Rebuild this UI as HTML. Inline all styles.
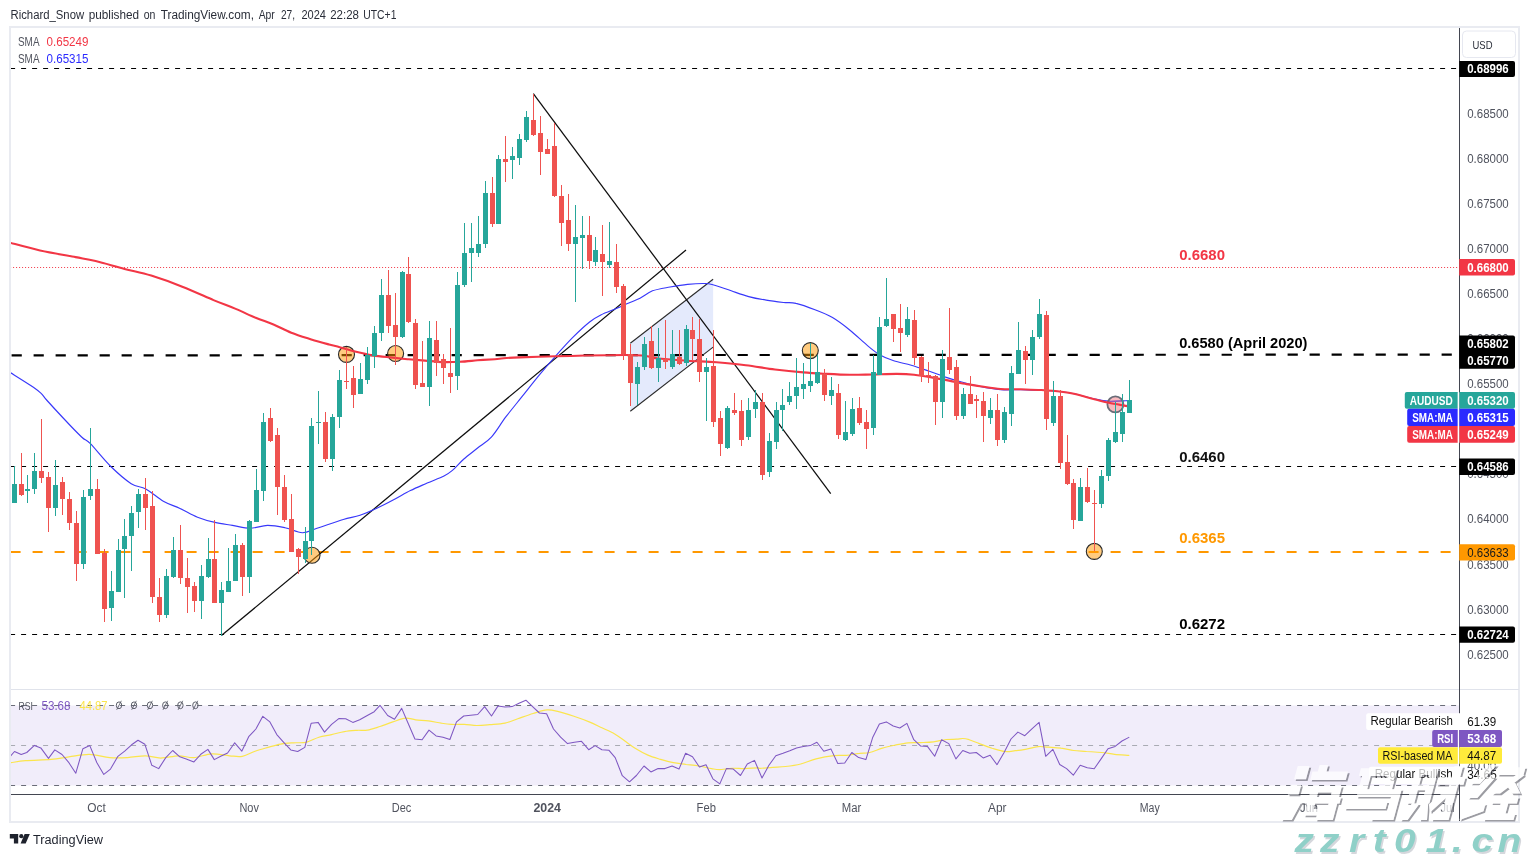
<!DOCTYPE html><html><head><meta charset="utf-8"><title>AUDUSD</title><style>html,body{margin:0;padding:0;background:#fff}body{width:1529px;height:857px;overflow:hidden}svg{display:block;will-change:transform}text{font-family:"Liberation Sans",sans-serif}</style></head><body>
<svg width="1529" height="857" viewBox="0 0 1529 857">
<rect width="1529" height="857" fill="#fff"/>
<rect x="10" y="27" width="1509" height="795" fill="#fff" stroke="#e9ebf1" stroke-width="2"/>
<text x="10.5" y="19" font-size="12.5" fill="#2a2e39" textLength="73.6" lengthAdjust="spacingAndGlyphs">Richard_Snow</text>
<text x="88.7" y="19" font-size="12.5" fill="#2a2e39" textLength="50.4" lengthAdjust="spacingAndGlyphs">published</text>
<text x="143.7" y="19" font-size="12.5" fill="#2a2e39" textLength="11.7" lengthAdjust="spacingAndGlyphs">on</text>
<text x="160.7" y="19" font-size="12.5" fill="#2a2e39" textLength="93.3" lengthAdjust="spacingAndGlyphs">TradingView.com,</text>
<text x="258.7" y="19" font-size="12.5" fill="#2a2e39" textLength="16.1" lengthAdjust="spacingAndGlyphs">Apr</text>
<text x="280.9" y="19" font-size="12.5" fill="#2a2e39" textLength="14.1" lengthAdjust="spacingAndGlyphs">27,</text>
<text x="301.4" y="19" font-size="12.5" fill="#2a2e39" textLength="24.5" lengthAdjust="spacingAndGlyphs">2024</text>
<text x="330.2" y="19" font-size="12.5" fill="#2a2e39" textLength="28.8" lengthAdjust="spacingAndGlyphs">22:28</text>
<text x="363.3" y="19" font-size="12.5" fill="#2a2e39" textLength="33.1" lengthAdjust="spacingAndGlyphs">UTC+1</text>
<defs><clipPath id="cp"><rect x="11" y="28" width="1448" height="661"/></clipPath><clipPath id="cr"><rect x="11" y="690" width="1448" height="104"/></clipPath></defs>
<rect x="11" y="705.5" width="1448" height="80" fill="#f1edfa"/>
<g clip-path="url(#cp)">
<line x1="10.1" y1="68.5" x2="1459" y2="68.5" stroke="#000" stroke-width="1" stroke-dasharray="5 6" stroke-dashoffset="0"/>
<line x1="10.1" y1="267.5" x2="1459" y2="267.5" stroke="#f23645" stroke-width="1" stroke-dasharray="1 2" stroke-dashoffset="0"/>
<line x1="10.1" y1="466.5" x2="1459" y2="466.5" stroke="#000" stroke-width="1" stroke-dasharray="5 6" stroke-dashoffset="0"/>
<line x1="10.1" y1="634.5" x2="1459" y2="634.5" stroke="#000" stroke-width="1" stroke-dasharray="5 6" stroke-dashoffset="0"/>
<line x1="10.6" y1="552" x2="1459" y2="552" stroke="#ff9800" stroke-width="2" stroke-dasharray="10 12" stroke-dashoffset="0"/>
<polygon points="630.3,343.3 713.1,279.2 713.1,347.1 630.3,411.2" fill="#dbe3fb" fill-opacity="0.75"/>
<line x1="11.6" y1="355.4" x2="1459" y2="354.6" stroke="#000" stroke-width="2.2" stroke-dasharray="10.2 11.8"/>
<line x1="630.3" y1="343.3" x2="713.1" y2="279.2" stroke="#2a2a2a" stroke-width="1.1"/>
<line x1="630.3" y1="411.2" x2="713.1" y2="347.1" stroke="#2a2a2a" stroke-width="1.1"/>
<line x1="221.4" y1="635.6" x2="686" y2="250" stroke="#0d0d0d" stroke-width="1.25"/>
<line x1="533.3" y1="93.7" x2="830.7" y2="493.7" stroke="#0d0d0d" stroke-width="1.25"/>
<path d="M10.7,372.8 C14.5,375.2 28.3,383.8 33.4,387.2 C38.4,390.7 38.9,391.3 41.1,393.4 C43.4,395.6 43.1,396.0 46.6,400.0 C50.2,404.0 56.9,411.3 62.7,417.5 C68.5,423.7 77.0,432.7 81.6,437.0 C86.2,441.4 85.5,438.8 90.4,443.7 C95.2,448.6 104.0,459.8 110.8,466.5 C117.6,473.1 125.4,479.9 131.2,483.7 C137.0,487.4 140.4,486.0 145.8,488.9 C151.1,491.8 157.6,497.9 163.3,501.2 C169.0,504.4 174.3,505.8 180.0,508.5 C185.7,511.1 191.7,514.9 197.5,517.2 C203.3,519.5 209.2,521.1 215.0,522.4 C220.8,523.8 226.6,524.4 232.5,525.4 C238.3,526.3 244.1,528.3 250.0,528.3 C255.8,528.3 261.6,525.5 267.5,525.4 C273.3,525.3 279.1,526.5 285.0,527.7 C290.8,528.9 297.1,532.6 302.4,532.7 C307.8,532.8 310.2,530.5 317.0,528.3 C323.8,526.1 336.1,521.7 343.3,519.5 C350.4,517.4 354.4,517.1 360.0,515.2 C365.6,513.3 371.2,510.8 376.8,508.2 C382.4,505.7 388.0,502.8 393.6,499.8 C399.2,496.9 404.8,493.4 410.4,490.6 C416.0,487.8 421.6,485.5 427.2,483.0 C432.8,480.6 439.8,478.1 444.0,476.0 C448.2,473.9 449.1,473.2 452.4,470.4 C455.7,467.6 459.4,463.0 463.6,459.2 C467.8,455.5 472.9,451.8 477.6,448.0 C482.3,444.3 486.9,442.0 491.6,436.8 C496.3,431.7 500.5,424.0 505.6,417.2 C510.8,410.4 516.8,403.2 522.4,396.2 C528.0,389.2 533.6,382.0 539.2,375.2 C544.8,368.4 550.4,361.9 556.0,355.6 C561.6,349.3 567.2,343.0 572.8,337.4 C578.4,331.8 585.0,325.7 589.6,322.0 C594.3,318.3 596.2,317.3 600.8,315.0 C605.5,312.7 613.0,310.0 617.6,308.0 C622.3,306.0 625.1,304.6 628.8,303.0 C632.6,301.3 636.1,300.2 640.0,298.2 C644.0,296.2 647.5,292.7 652.5,290.8 C657.5,289.0 664.1,288.1 670.0,287.0 C675.8,286.0 681.6,285.0 687.5,284.4 C693.3,283.8 700.6,283.4 705.0,283.5 C709.3,283.6 709.3,283.8 713.7,285.0 C718.1,286.2 725.4,288.9 731.2,290.8 C737.0,292.8 742.9,295.1 748.7,296.6 C754.5,298.2 760.3,299.2 766.2,300.1 C772.0,301.1 778.7,301.9 783.7,302.5 C788.6,303.0 790.8,302.1 796.0,303.4 C801.3,304.6 808.9,307.4 815.0,309.8 C821.1,312.1 826.6,314.2 832.5,317.6 C838.3,321.0 844.1,325.5 850.0,330.2 C855.8,334.8 862.6,341.6 867.5,345.6 C872.3,349.7 874.8,351.8 879.1,354.4 C883.5,356.9 888.4,359.0 893.7,360.8 C899.0,362.6 905.4,363.5 911.2,365.2 C917.0,366.9 922.9,369.0 928.7,371.0 C934.5,373.0 940.8,375.6 946.2,377.4 C951.5,379.2 955.1,380.3 960.8,381.8 C966.4,383.3 973.4,385.1 980.0,386.4 C986.6,387.8 993.8,389.1 1000.6,389.6 C1007.4,390.2 1014.1,389.5 1020.9,389.6 C1027.7,389.8 1034.5,390.0 1041.2,390.3 C1048.0,390.7 1055.9,391.1 1061.5,391.7 C1067.2,392.3 1069.4,392.8 1075.1,394.0 C1080.7,395.3 1089.7,397.9 1095.4,399.1 C1101.0,400.3 1103.8,400.9 1108.9,401.2 C1114.0,401.4 1122.6,400.9 1125.8,400.8 C1129.0,400.7 1127.6,400.6 1128.0,400.5" fill="none" stroke="#3838fa" stroke-width="1.15" stroke-linejoin="round" stroke-linecap="round"/>
<circle cx="312" cy="555.3" r="8" fill="#ff9800" fill-opacity="0.5" stroke="#2a2a2a" stroke-width="1.1"/>
<circle cx="346.5" cy="354.4" r="8" fill="#ff9800" fill-opacity="0.5" stroke="#2a2a2a" stroke-width="1.1"/>
<circle cx="395.6" cy="353.5" r="8" fill="#ff9800" fill-opacity="0.5" stroke="#2a2a2a" stroke-width="1.1"/>
<circle cx="810.3" cy="350.6" r="8" fill="#ff9800" fill-opacity="0.5" stroke="#2a2a2a" stroke-width="1.1"/>
<circle cx="1094.3" cy="551.4" r="8" fill="#ff9800" fill-opacity="0.5" stroke="#2a2a2a" stroke-width="1.1"/>
<circle cx="1115.4" cy="404.4" r="8" fill="#f23645" fill-opacity="0.35" stroke="#6a6d78" stroke-width="1.8"/>
<path d="M10.7,242.9 C15.6,244.2 29.2,248.1 40.0,250.5 C50.8,252.8 66.3,255.4 75.6,257.1 C84.9,258.9 87.5,259.2 95.6,261.1 C103.8,263.1 115.3,266.5 124.5,268.9 C133.8,271.3 141.6,272.6 151.2,275.6 C160.8,278.6 172.0,282.6 182.3,286.7 C192.7,290.8 204.6,296.3 213.5,300.1 C222.4,303.8 228.7,306.0 235.7,308.9 C242.8,311.9 249.4,315.2 255.7,317.8 C262.0,320.4 267.6,322.0 273.5,324.5 C279.4,327.0 285.0,330.3 291.3,332.7 C297.6,335.2 305.0,337.4 311.3,339.4 C317.6,341.4 324.7,343.3 329.1,344.5 C333.5,345.7 333.2,345.4 337.5,346.6 C341.8,347.8 349.2,350.1 355.0,351.6 C360.8,353.0 366.6,354.4 372.5,355.4 C378.3,356.3 384.1,356.8 390.0,357.4 C395.8,358.0 401.6,358.6 407.5,359.2 C413.3,359.7 419.1,360.1 425.0,360.6 C430.8,361.1 436.6,361.9 442.4,362.1 C448.3,362.3 454.1,362.1 459.9,361.8 C465.8,361.5 471.6,360.8 477.4,360.3 C483.3,359.9 487.8,359.6 494.9,359.2 C502.0,358.7 497.6,358.1 520.0,357.4 C542.4,356.7 606.1,354.8 629.2,355.0 C652.2,355.1 648.6,357.5 658.3,358.5 C668.0,359.4 677.7,360.2 687.5,360.8 C697.2,361.4 706.9,361.5 716.6,362.2 C726.3,363.0 736.1,363.9 745.8,365.2 C755.5,366.4 765.3,368.3 774.9,369.5 C784.5,370.7 794.7,371.7 803.3,372.4 C811.9,373.2 818.9,373.5 826.6,373.9 C834.4,374.3 842.2,374.7 850.0,374.8 C857.7,374.9 865.5,374.6 873.3,374.5 C881.1,374.3 889.8,373.9 896.6,373.9 C903.4,374.0 908.3,374.2 914.1,374.8 C919.9,375.4 925.8,376.4 931.6,377.4 C937.4,378.4 943.3,379.5 949.1,380.6 C954.9,381.7 961.4,383.2 966.6,384.1 C971.7,385.0 974.3,385.3 980.0,386.2 C985.7,387.0 993.8,388.4 1000.6,389.0 C1007.4,389.5 1014.1,389.1 1020.9,389.3 C1027.7,389.5 1034.5,389.6 1041.2,390.0 C1048.0,390.4 1055.9,391.0 1061.5,391.7 C1067.2,392.4 1069.4,392.7 1075.1,394.0 C1080.7,395.3 1089.7,398.0 1095.4,399.5 C1101.0,400.9 1103.8,401.8 1108.9,402.8 C1114.0,403.9 1122.6,405.3 1125.8,405.9 C1129.0,406.5 1127.6,406.2 1128.0,406.3" fill="none" stroke="#f23645" stroke-width="2.1" stroke-linejoin="round" stroke-linecap="round"/>
<rect x="14" y="466" width="1" height="37" fill="#26a69a"/>
<rect x="12" y="484" width="5" height="19" fill="#26a69a"/>
<rect x="21" y="453" width="1" height="43" fill="#ef5350"/>
<rect x="19" y="484" width="5" height="11" fill="#ef5350"/>
<rect x="27" y="475" width="1" height="28" fill="#26a69a"/>
<rect x="25" y="489" width="5" height="2" fill="#26a69a"/>
<rect x="34" y="453" width="1" height="41" fill="#26a69a"/>
<rect x="32" y="471" width="5" height="18" fill="#26a69a"/>
<rect x="41" y="419" width="1" height="64" fill="#ef5350"/>
<rect x="39" y="471" width="5" height="7" fill="#ef5350"/>
<rect x="48" y="472" width="1" height="60" fill="#ef5350"/>
<rect x="46" y="477" width="5" height="31" fill="#ef5350"/>
<rect x="55" y="460" width="1" height="56" fill="#26a69a"/>
<rect x="53" y="485" width="5" height="23" fill="#26a69a"/>
<rect x="62" y="477" width="1" height="38" fill="#ef5350"/>
<rect x="60" y="482" width="5" height="17" fill="#ef5350"/>
<rect x="69" y="492" width="1" height="38" fill="#ef5350"/>
<rect x="67" y="499" width="5" height="24" fill="#ef5350"/>
<rect x="76" y="511" width="1" height="70" fill="#ef5350"/>
<rect x="74" y="523" width="5" height="41" fill="#ef5350"/>
<rect x="83" y="490" width="1" height="79" fill="#26a69a"/>
<rect x="81" y="497" width="5" height="67" fill="#26a69a"/>
<rect x="90" y="428" width="1" height="72" fill="#26a69a"/>
<rect x="88" y="489" width="5" height="7" fill="#26a69a"/>
<rect x="97" y="479" width="1" height="75" fill="#ef5350"/>
<rect x="95" y="489" width="5" height="65" fill="#ef5350"/>
<rect x="104" y="549" width="1" height="73" fill="#ef5350"/>
<rect x="102" y="553" width="5" height="56" fill="#ef5350"/>
<rect x="111" y="571" width="1" height="50" fill="#26a69a"/>
<rect x="109" y="591" width="5" height="17" fill="#26a69a"/>
<rect x="118" y="539" width="1" height="53" fill="#26a69a"/>
<rect x="116" y="550" width="5" height="42" fill="#26a69a"/>
<rect x="124" y="519" width="1" height="79" fill="#26a69a"/>
<rect x="122" y="536" width="5" height="13" fill="#26a69a"/>
<rect x="131" y="506" width="1" height="65" fill="#26a69a"/>
<rect x="129" y="513" width="5" height="23" fill="#26a69a"/>
<rect x="138" y="489" width="1" height="39" fill="#26a69a"/>
<rect x="136" y="494" width="5" height="18" fill="#26a69a"/>
<rect x="145" y="478" width="1" height="52" fill="#ef5350"/>
<rect x="143" y="494" width="5" height="14" fill="#ef5350"/>
<rect x="152" y="491" width="1" height="112" fill="#ef5350"/>
<rect x="150" y="506" width="5" height="91" fill="#ef5350"/>
<rect x="159" y="578" width="1" height="44" fill="#ef5350"/>
<rect x="157" y="597" width="5" height="18" fill="#ef5350"/>
<rect x="166" y="569" width="1" height="49" fill="#26a69a"/>
<rect x="164" y="576" width="5" height="39" fill="#26a69a"/>
<rect x="173" y="537" width="1" height="41" fill="#26a69a"/>
<rect x="171" y="550" width="5" height="27" fill="#26a69a"/>
<rect x="180" y="525" width="1" height="59" fill="#ef5350"/>
<rect x="178" y="550" width="5" height="28" fill="#ef5350"/>
<rect x="187" y="558" width="1" height="55" fill="#ef5350"/>
<rect x="185" y="578" width="5" height="9" fill="#ef5350"/>
<rect x="194" y="582" width="1" height="30" fill="#ef5350"/>
<rect x="192" y="586" width="5" height="15" fill="#ef5350"/>
<rect x="201" y="565" width="1" height="54" fill="#26a69a"/>
<rect x="199" y="576" width="5" height="25" fill="#26a69a"/>
<rect x="208" y="538" width="1" height="40" fill="#26a69a"/>
<rect x="206" y="559" width="5" height="18" fill="#26a69a"/>
<rect x="214" y="520" width="1" height="83" fill="#ef5350"/>
<rect x="212" y="559" width="5" height="44" fill="#ef5350"/>
<rect x="221" y="582" width="1" height="54" fill="#26a69a"/>
<rect x="219" y="590" width="5" height="13" fill="#26a69a"/>
<rect x="228" y="548" width="1" height="44" fill="#26a69a"/>
<rect x="226" y="581" width="5" height="11" fill="#26a69a"/>
<rect x="235" y="534" width="1" height="47" fill="#26a69a"/>
<rect x="233" y="545" width="5" height="36" fill="#26a69a"/>
<rect x="242" y="543" width="1" height="53" fill="#ef5350"/>
<rect x="240" y="545" width="5" height="32" fill="#ef5350"/>
<rect x="249" y="520" width="1" height="73" fill="#26a69a"/>
<rect x="247" y="521" width="5" height="56" fill="#26a69a"/>
<rect x="256" y="469" width="1" height="53" fill="#26a69a"/>
<rect x="254" y="490" width="5" height="32" fill="#26a69a"/>
<rect x="263" y="413" width="1" height="88" fill="#26a69a"/>
<rect x="261" y="422" width="5" height="69" fill="#26a69a"/>
<rect x="270" y="408" width="1" height="34" fill="#ef5350"/>
<rect x="268" y="418" width="5" height="23" fill="#ef5350"/>
<rect x="277" y="428" width="1" height="87" fill="#ef5350"/>
<rect x="275" y="435" width="5" height="52" fill="#ef5350"/>
<rect x="284" y="475" width="1" height="47" fill="#ef5350"/>
<rect x="282" y="487" width="5" height="33" fill="#ef5350"/>
<rect x="291" y="494" width="1" height="58" fill="#ef5350"/>
<rect x="289" y="519" width="5" height="33" fill="#ef5350"/>
<rect x="298" y="548" width="1" height="26" fill="#ef5350"/>
<rect x="296" y="549" width="5" height="8" fill="#ef5350"/>
<rect x="305" y="527" width="1" height="36" fill="#26a69a"/>
<rect x="303" y="541" width="5" height="18" fill="#26a69a"/>
<rect x="311" y="418" width="1" height="137" fill="#26a69a"/>
<rect x="309" y="426" width="5" height="115" fill="#26a69a"/>
<rect x="318" y="391" width="1" height="53" fill="#26a69a"/>
<rect x="316" y="422" width="5" height="1" fill="#26a69a"/>
<rect x="325" y="412" width="1" height="50" fill="#ef5350"/>
<rect x="323" y="422" width="5" height="37" fill="#ef5350"/>
<rect x="332" y="414" width="1" height="57" fill="#26a69a"/>
<rect x="330" y="417" width="5" height="42" fill="#26a69a"/>
<rect x="339" y="370" width="1" height="58" fill="#26a69a"/>
<rect x="337" y="380" width="5" height="37" fill="#26a69a"/>
<rect x="346" y="347" width="1" height="42" fill="#ef5350"/>
<rect x="344" y="381" width="5" height="1" fill="#ef5350"/>
<rect x="353" y="366" width="1" height="42" fill="#ef5350"/>
<rect x="351" y="378" width="5" height="17" fill="#ef5350"/>
<rect x="360" y="363" width="1" height="31" fill="#26a69a"/>
<rect x="358" y="379" width="5" height="15" fill="#26a69a"/>
<rect x="367" y="347" width="1" height="37" fill="#26a69a"/>
<rect x="365" y="355" width="5" height="25" fill="#26a69a"/>
<rect x="374" y="326" width="1" height="42" fill="#26a69a"/>
<rect x="372" y="333" width="5" height="23" fill="#26a69a"/>
<rect x="381" y="279" width="1" height="62" fill="#26a69a"/>
<rect x="379" y="295" width="5" height="38" fill="#26a69a"/>
<rect x="388" y="270" width="1" height="63" fill="#ef5350"/>
<rect x="386" y="295" width="5" height="31" fill="#ef5350"/>
<rect x="395" y="293" width="1" height="72" fill="#ef5350"/>
<rect x="393" y="325" width="5" height="12" fill="#ef5350"/>
<rect x="402" y="271" width="1" height="67" fill="#26a69a"/>
<rect x="400" y="272" width="5" height="65" fill="#26a69a"/>
<rect x="408" y="257" width="1" height="66" fill="#ef5350"/>
<rect x="406" y="274" width="5" height="48" fill="#ef5350"/>
<rect x="415" y="319" width="1" height="70" fill="#ef5350"/>
<rect x="413" y="323" width="5" height="62" fill="#ef5350"/>
<rect x="422" y="341" width="1" height="46" fill="#ef5350"/>
<rect x="420" y="383" width="5" height="4" fill="#ef5350"/>
<rect x="429" y="321" width="1" height="85" fill="#26a69a"/>
<rect x="427" y="338" width="5" height="49" fill="#26a69a"/>
<rect x="436" y="321" width="1" height="55" fill="#ef5350"/>
<rect x="434" y="340" width="5" height="23" fill="#ef5350"/>
<rect x="443" y="354" width="1" height="30" fill="#ef5350"/>
<rect x="441" y="359" width="5" height="9" fill="#ef5350"/>
<rect x="450" y="328" width="1" height="65" fill="#ef5350"/>
<rect x="448" y="373" width="5" height="4" fill="#ef5350"/>
<rect x="457" y="272" width="1" height="118" fill="#26a69a"/>
<rect x="455" y="285" width="5" height="91" fill="#26a69a"/>
<rect x="464" y="223" width="1" height="64" fill="#26a69a"/>
<rect x="462" y="253" width="5" height="32" fill="#26a69a"/>
<rect x="471" y="223" width="1" height="59" fill="#26a69a"/>
<rect x="469" y="248" width="5" height="5" fill="#26a69a"/>
<rect x="478" y="216" width="1" height="41" fill="#26a69a"/>
<rect x="476" y="244" width="5" height="9" fill="#26a69a"/>
<rect x="485" y="181" width="1" height="67" fill="#26a69a"/>
<rect x="483" y="193" width="5" height="51" fill="#26a69a"/>
<rect x="492" y="177" width="1" height="50" fill="#ef5350"/>
<rect x="490" y="193" width="5" height="31" fill="#ef5350"/>
<rect x="498" y="155" width="1" height="69" fill="#26a69a"/>
<rect x="496" y="159" width="5" height="65" fill="#26a69a"/>
<rect x="505" y="136" width="1" height="46" fill="#ef5350"/>
<rect x="503" y="159" width="5" height="3" fill="#ef5350"/>
<rect x="512" y="147" width="1" height="32" fill="#26a69a"/>
<rect x="510" y="156" width="5" height="4" fill="#26a69a"/>
<rect x="519" y="134" width="1" height="31" fill="#26a69a"/>
<rect x="517" y="139" width="5" height="19" fill="#26a69a"/>
<rect x="526" y="111" width="1" height="31" fill="#26a69a"/>
<rect x="524" y="117" width="5" height="23" fill="#26a69a"/>
<rect x="533" y="94" width="1" height="42" fill="#ef5350"/>
<rect x="531" y="120" width="5" height="15" fill="#ef5350"/>
<rect x="540" y="116" width="1" height="59" fill="#ef5350"/>
<rect x="538" y="133" width="5" height="19" fill="#ef5350"/>
<rect x="547" y="139" width="1" height="15" fill="#ef5350"/>
<rect x="545" y="149" width="5" height="5" fill="#ef5350"/>
<rect x="554" y="123" width="1" height="74" fill="#ef5350"/>
<rect x="552" y="146" width="5" height="50" fill="#ef5350"/>
<rect x="561" y="185" width="1" height="61" fill="#ef5350"/>
<rect x="559" y="196" width="5" height="27" fill="#ef5350"/>
<rect x="568" y="194" width="1" height="57" fill="#ef5350"/>
<rect x="566" y="220" width="5" height="24" fill="#ef5350"/>
<rect x="575" y="205" width="1" height="97" fill="#26a69a"/>
<rect x="573" y="237" width="5" height="7" fill="#26a69a"/>
<rect x="582" y="216" width="1" height="53" fill="#26a69a"/>
<rect x="580" y="235" width="5" height="3" fill="#26a69a"/>
<rect x="589" y="216" width="1" height="53" fill="#ef5350"/>
<rect x="587" y="235" width="5" height="26" fill="#ef5350"/>
<rect x="595" y="237" width="1" height="29" fill="#26a69a"/>
<rect x="593" y="250" width="5" height="12" fill="#26a69a"/>
<rect x="602" y="225" width="1" height="71" fill="#ef5350"/>
<rect x="600" y="254" width="5" height="8" fill="#ef5350"/>
<rect x="609" y="222" width="1" height="46" fill="#26a69a"/>
<rect x="607" y="261" width="5" height="4" fill="#26a69a"/>
<rect x="616" y="244" width="1" height="49" fill="#ef5350"/>
<rect x="614" y="262" width="5" height="25" fill="#ef5350"/>
<rect x="623" y="284" width="1" height="76" fill="#ef5350"/>
<rect x="621" y="286" width="5" height="68" fill="#ef5350"/>
<rect x="630" y="344" width="1" height="62" fill="#ef5350"/>
<rect x="628" y="354" width="5" height="29" fill="#ef5350"/>
<rect x="637" y="362" width="1" height="43" fill="#26a69a"/>
<rect x="635" y="367" width="5" height="17" fill="#26a69a"/>
<rect x="644" y="337" width="1" height="33" fill="#26a69a"/>
<rect x="642" y="344" width="5" height="23" fill="#26a69a"/>
<rect x="651" y="326" width="1" height="43" fill="#ef5350"/>
<rect x="649" y="341" width="5" height="27" fill="#ef5350"/>
<rect x="658" y="328" width="1" height="54" fill="#26a69a"/>
<rect x="656" y="358" width="5" height="10" fill="#26a69a"/>
<rect x="665" y="320" width="1" height="49" fill="#ef5350"/>
<rect x="663" y="359" width="5" height="3" fill="#ef5350"/>
<rect x="672" y="330" width="1" height="39" fill="#26a69a"/>
<rect x="670" y="354" width="5" height="13" fill="#26a69a"/>
<rect x="679" y="330" width="1" height="35" fill="#ef5350"/>
<rect x="677" y="357" width="5" height="7" fill="#ef5350"/>
<rect x="686" y="325" width="1" height="41" fill="#26a69a"/>
<rect x="684" y="329" width="5" height="34" fill="#26a69a"/>
<rect x="692" y="317" width="1" height="44" fill="#ef5350"/>
<rect x="690" y="330" width="5" height="9" fill="#ef5350"/>
<rect x="699" y="319" width="1" height="63" fill="#ef5350"/>
<rect x="697" y="339" width="5" height="33" fill="#ef5350"/>
<rect x="706" y="358" width="1" height="63" fill="#26a69a"/>
<rect x="704" y="367" width="5" height="5" fill="#26a69a"/>
<rect x="713" y="330" width="1" height="97" fill="#ef5350"/>
<rect x="711" y="366" width="5" height="56" fill="#ef5350"/>
<rect x="720" y="411" width="1" height="45" fill="#ef5350"/>
<rect x="718" y="418" width="5" height="26" fill="#ef5350"/>
<rect x="727" y="406" width="1" height="43" fill="#26a69a"/>
<rect x="725" y="408" width="5" height="40" fill="#26a69a"/>
<rect x="734" y="393" width="1" height="22" fill="#ef5350"/>
<rect x="732" y="410" width="5" height="3" fill="#ef5350"/>
<rect x="741" y="400" width="1" height="46" fill="#ef5350"/>
<rect x="739" y="411" width="5" height="29" fill="#ef5350"/>
<rect x="748" y="398" width="1" height="42" fill="#26a69a"/>
<rect x="746" y="410" width="5" height="27" fill="#26a69a"/>
<rect x="755" y="390" width="1" height="28" fill="#26a69a"/>
<rect x="753" y="402" width="5" height="7" fill="#26a69a"/>
<rect x="762" y="393" width="1" height="87" fill="#ef5350"/>
<rect x="760" y="402" width="5" height="73" fill="#ef5350"/>
<rect x="769" y="433" width="1" height="44" fill="#26a69a"/>
<rect x="767" y="441" width="5" height="31" fill="#26a69a"/>
<rect x="776" y="402" width="1" height="47" fill="#26a69a"/>
<rect x="774" y="410" width="5" height="32" fill="#26a69a"/>
<rect x="782" y="389" width="1" height="42" fill="#26a69a"/>
<rect x="780" y="405" width="5" height="5" fill="#26a69a"/>
<rect x="789" y="382" width="1" height="23" fill="#26a69a"/>
<rect x="787" y="396" width="5" height="6" fill="#26a69a"/>
<rect x="796" y="358" width="1" height="51" fill="#26a69a"/>
<rect x="794" y="387" width="5" height="9" fill="#26a69a"/>
<rect x="803" y="363" width="1" height="36" fill="#26a69a"/>
<rect x="801" y="384" width="5" height="5" fill="#26a69a"/>
<rect x="810" y="343" width="1" height="49" fill="#26a69a"/>
<rect x="808" y="381" width="5" height="5" fill="#26a69a"/>
<rect x="817" y="355" width="1" height="29" fill="#26a69a"/>
<rect x="815" y="372" width="5" height="11" fill="#26a69a"/>
<rect x="824" y="369" width="1" height="32" fill="#ef5350"/>
<rect x="822" y="374" width="5" height="21" fill="#ef5350"/>
<rect x="831" y="377" width="1" height="28" fill="#26a69a"/>
<rect x="829" y="390" width="5" height="6" fill="#26a69a"/>
<rect x="838" y="384" width="1" height="55" fill="#ef5350"/>
<rect x="836" y="393" width="5" height="42" fill="#ef5350"/>
<rect x="845" y="401" width="1" height="40" fill="#26a69a"/>
<rect x="843" y="432" width="5" height="8" fill="#26a69a"/>
<rect x="852" y="398" width="1" height="38" fill="#26a69a"/>
<rect x="850" y="409" width="5" height="25" fill="#26a69a"/>
<rect x="859" y="397" width="1" height="28" fill="#ef5350"/>
<rect x="857" y="408" width="5" height="15" fill="#ef5350"/>
<rect x="866" y="410" width="1" height="39" fill="#ef5350"/>
<rect x="864" y="422" width="5" height="7" fill="#ef5350"/>
<rect x="873" y="355" width="1" height="80" fill="#26a69a"/>
<rect x="871" y="372" width="5" height="56" fill="#26a69a"/>
<rect x="879" y="317" width="1" height="58" fill="#26a69a"/>
<rect x="877" y="327" width="5" height="48" fill="#26a69a"/>
<rect x="886" y="278" width="1" height="49" fill="#26a69a"/>
<rect x="884" y="319" width="5" height="7" fill="#26a69a"/>
<rect x="893" y="314" width="1" height="28" fill="#ef5350"/>
<rect x="891" y="314" width="5" height="15" fill="#ef5350"/>
<rect x="900" y="304" width="1" height="48" fill="#ef5350"/>
<rect x="898" y="328" width="5" height="5" fill="#ef5350"/>
<rect x="907" y="307" width="1" height="30" fill="#26a69a"/>
<rect x="905" y="319" width="5" height="16" fill="#26a69a"/>
<rect x="914" y="310" width="1" height="55" fill="#ef5350"/>
<rect x="912" y="320" width="5" height="38" fill="#ef5350"/>
<rect x="921" y="356" width="1" height="26" fill="#ef5350"/>
<rect x="919" y="357" width="5" height="19" fill="#ef5350"/>
<rect x="928" y="362" width="1" height="21" fill="#ef5350"/>
<rect x="926" y="375" width="5" height="1" fill="#ef5350"/>
<rect x="935" y="375" width="1" height="50" fill="#ef5350"/>
<rect x="933" y="376" width="5" height="26" fill="#ef5350"/>
<rect x="942" y="350" width="1" height="68" fill="#26a69a"/>
<rect x="940" y="359" width="5" height="43" fill="#26a69a"/>
<rect x="949" y="308" width="1" height="66" fill="#ef5350"/>
<rect x="947" y="357" width="5" height="13" fill="#ef5350"/>
<rect x="956" y="360" width="1" height="60" fill="#ef5350"/>
<rect x="954" y="367" width="5" height="49" fill="#ef5350"/>
<rect x="963" y="388" width="1" height="31" fill="#26a69a"/>
<rect x="961" y="394" width="5" height="22" fill="#26a69a"/>
<rect x="970" y="376" width="1" height="28" fill="#ef5350"/>
<rect x="968" y="394" width="5" height="10" fill="#ef5350"/>
<rect x="976" y="395" width="1" height="23" fill="#ef5350"/>
<rect x="974" y="399" width="5" height="2" fill="#ef5350"/>
<rect x="983" y="392" width="1" height="50" fill="#ef5350"/>
<rect x="981" y="401" width="5" height="15" fill="#ef5350"/>
<rect x="990" y="398" width="1" height="26" fill="#26a69a"/>
<rect x="988" y="410" width="5" height="8" fill="#26a69a"/>
<rect x="997" y="394" width="1" height="52" fill="#ef5350"/>
<rect x="995" y="410" width="5" height="30" fill="#ef5350"/>
<rect x="1004" y="407" width="1" height="36" fill="#26a69a"/>
<rect x="1002" y="412" width="5" height="28" fill="#26a69a"/>
<rect x="1011" y="366" width="1" height="60" fill="#26a69a"/>
<rect x="1009" y="373" width="5" height="41" fill="#26a69a"/>
<rect x="1018" y="322" width="1" height="52" fill="#26a69a"/>
<rect x="1016" y="350" width="5" height="24" fill="#26a69a"/>
<rect x="1025" y="346" width="1" height="38" fill="#ef5350"/>
<rect x="1023" y="351" width="5" height="9" fill="#ef5350"/>
<rect x="1032" y="330" width="1" height="45" fill="#26a69a"/>
<rect x="1030" y="337" width="5" height="23" fill="#26a69a"/>
<rect x="1039" y="299" width="1" height="40" fill="#26a69a"/>
<rect x="1037" y="314" width="5" height="23" fill="#26a69a"/>
<rect x="1046" y="311" width="1" height="119" fill="#ef5350"/>
<rect x="1044" y="315" width="5" height="104" fill="#ef5350"/>
<rect x="1053" y="381" width="1" height="45" fill="#26a69a"/>
<rect x="1051" y="396" width="5" height="27" fill="#26a69a"/>
<rect x="1060" y="390" width="1" height="79" fill="#ef5350"/>
<rect x="1058" y="396" width="5" height="67" fill="#ef5350"/>
<rect x="1067" y="435" width="1" height="50" fill="#ef5350"/>
<rect x="1065" y="462" width="5" height="22" fill="#ef5350"/>
<rect x="1073" y="479" width="1" height="50" fill="#ef5350"/>
<rect x="1071" y="483" width="5" height="37" fill="#ef5350"/>
<rect x="1080" y="478" width="1" height="43" fill="#26a69a"/>
<rect x="1078" y="487" width="5" height="34" fill="#26a69a"/>
<rect x="1087" y="468" width="1" height="35" fill="#ef5350"/>
<rect x="1085" y="487" width="5" height="15" fill="#ef5350"/>
<rect x="1094" y="490" width="1" height="61" fill="#ef5350"/>
<rect x="1092" y="503" width="5" height="1" fill="#ef5350"/>
<rect x="1101" y="470" width="1" height="38" fill="#26a69a"/>
<rect x="1099" y="476" width="5" height="28" fill="#26a69a"/>
<rect x="1108" y="438" width="1" height="43" fill="#26a69a"/>
<rect x="1106" y="440" width="5" height="36" fill="#26a69a"/>
<rect x="1115" y="402" width="1" height="41" fill="#26a69a"/>
<rect x="1113" y="432" width="5" height="10" fill="#26a69a"/>
<rect x="1122" y="394" width="1" height="48" fill="#26a69a"/>
<rect x="1120" y="412" width="5" height="22" fill="#26a69a"/>
<rect x="1129" y="380" width="1" height="33" fill="#26a69a"/>
<rect x="1127" y="400" width="5" height="13" fill="#26a69a"/>
</g>
<text x="1179.2" y="259.7" font-size="14" font-weight="bold" fill="#f23645" textLength="45.8" lengthAdjust="spacingAndGlyphs">0.6680</text>
<text x="1179.2" y="348.2" font-size="14" font-weight="bold" fill="#000" textLength="128.3" lengthAdjust="spacingAndGlyphs">0.6580 (April 2020)</text>
<text x="1179.2" y="461.6" font-size="14" font-weight="bold" fill="#111" textLength="45.8" lengthAdjust="spacingAndGlyphs">0.6460</text>
<text x="1179.2" y="542.8" font-size="14" font-weight="bold" fill="#ff9800" textLength="45.8" lengthAdjust="spacingAndGlyphs">0.6365</text>
<text x="1179.2" y="628.8" font-size="14" font-weight="bold" fill="#000" textLength="45.8" lengthAdjust="spacingAndGlyphs">0.6272</text>
<text x="18" y="45.5" font-size="12.5" fill="#50535e" textLength="21.5" lengthAdjust="spacingAndGlyphs">SMA</text>
<text x="46.5" y="45.5" font-size="12" fill="#f23645" textLength="42" lengthAdjust="spacingAndGlyphs">0.65249</text>
<text x="18" y="62.5" font-size="12.5" fill="#50535e" textLength="21.5" lengthAdjust="spacingAndGlyphs">SMA</text>
<text x="46.5" y="62.5" font-size="12" fill="#2a2aff" textLength="42" lengthAdjust="spacingAndGlyphs">0.65315</text>
<rect x="11" y="689" width="1508" height="1" fill="#e0e3eb"/>
<g clip-path="url(#cr)">
<line x1="10.1" y1="705.5" x2="1459" y2="705.5" stroke="#6a6d78" stroke-width="1" stroke-dasharray="5 6" stroke-dashoffset="0"/>
<line x1="10.1" y1="745.5" x2="1459" y2="745.5" stroke="#a9abb3" stroke-width="1" stroke-dasharray="5 6" stroke-dashoffset="0"/>
<line x1="10.1" y1="785.5" x2="1459" y2="785.5" stroke="#6a6d78" stroke-width="1" stroke-dasharray="5 6" stroke-dashoffset="0"/>
<path d="M10.7,762.7 C13.2,762.4 18.8,761.2 25.5,760.7 C32.2,760.1 43.8,760.0 51.0,759.4 C58.2,758.8 62.5,757.7 68.9,756.8 C75.3,756.0 82.5,754.2 89.3,754.3 C96.1,754.4 103.3,757.0 109.7,757.6 C116.1,758.2 121.6,757.9 127.6,757.6 C133.5,757.3 139.9,755.7 145.4,755.8 C150.9,755.9 155.2,758.1 160.7,758.1 C166.2,758.1 173.0,755.9 178.6,755.8 C184.1,755.7 188.4,757.9 193.9,757.6 C199.4,757.3 205.8,754.1 211.7,753.8 C217.7,753.5 224.5,755.4 229.6,755.8 C234.7,756.2 238.1,757.1 242.3,756.3 C246.6,755.6 250.9,752.7 255.1,751.2 C259.4,749.7 263.6,748.6 267.9,747.4 C272.1,746.2 276.4,744.8 280.6,744.1 C284.9,743.3 289.1,743.1 293.4,742.8 C297.6,742.5 301.9,743.2 306.1,742.3 C310.4,741.4 314.6,738.5 318.9,737.2 C323.1,735.9 327.4,735.6 331.6,734.6 C335.9,733.7 340.1,732.3 344.4,731.6 C348.6,730.9 353.3,730.6 357.1,730.3 C361.0,730.1 363.5,730.7 367.3,730.1 C371.2,729.4 375.8,727.8 380.0,726.5 C384.2,725.1 388.5,723.3 392.8,721.9 C397.0,720.5 401.7,718.4 405.5,718.1 C409.3,717.7 411.9,719.4 415.7,719.8 C419.5,720.3 424.2,720.3 428.5,720.9 C432.7,721.4 437.4,722.6 441.2,723.2 C445.1,723.8 447.6,724.2 451.4,724.4 C455.3,724.7 459.9,724.3 464.2,724.4 C468.4,724.6 472.7,725.4 476.9,725.5 C481.2,725.5 485.0,725.1 489.7,724.7 C494.4,724.3 500.3,724.1 505.0,723.2 C509.7,722.2 513.1,720.4 517.8,718.8 C522.4,717.2 528.2,715.0 533.1,713.5 C538.0,712.0 542.8,710.2 547.1,709.9 C551.3,709.6 554.1,710.6 558.6,711.7 C563.0,712.7 568.8,714.6 573.9,716.3 C579.0,718.0 584.5,720.0 589.2,721.9 C593.9,723.8 597.7,725.8 601.9,727.8 C606.2,729.8 610.9,731.7 614.7,733.9 C618.5,736.1 621.5,738.6 624.9,741.0 C628.3,743.4 631.3,745.8 635.1,748.2 C638.9,750.5 643.6,753.2 647.9,755.1 C652.1,756.9 656.4,758.1 660.6,759.4 C664.9,760.7 669.1,761.9 673.4,762.7 C677.6,763.6 681.9,763.9 686.1,764.5 C690.4,765.0 694.6,765.3 698.9,766.0 C703.1,766.7 708.2,768.0 711.6,768.6 C715.0,769.2 715.9,769.6 719.3,769.6 C722.7,769.5 727.8,768.5 732.0,768.3 C736.3,768.1 740.5,768.7 744.8,768.6 C749.0,768.5 755.0,767.8 757.6,767.8 C760.1,767.8 757.5,768.4 760.0,768.3 C762.5,768.2 768.5,767.6 772.8,767.3 C777.0,767.0 780.8,767.1 785.5,766.5 C790.2,766.0 795.7,765.3 800.8,764.0 C805.9,762.7 810.6,760.3 816.1,758.9 C821.6,757.5 828.9,756.2 834.0,755.6 C839.1,755.0 842.5,755.7 846.7,755.3 C851.0,754.9 855.7,753.7 859.5,753.3 C863.3,752.8 865.9,753.4 869.7,752.5 C873.5,751.6 878.2,749.4 882.4,748.2 C886.7,746.9 891.0,746.0 895.2,745.1 C899.5,744.2 903.7,743.2 908.0,742.8 C912.2,742.4 916.5,742.7 920.7,742.6 C925.0,742.4 929.2,742.3 933.5,741.8 C937.7,741.3 942.4,739.9 946.2,739.5 C950.1,739.1 953.7,739.4 956.4,739.2 C959.2,739.1 960.7,738.4 962.8,738.5 C964.9,738.6 966.4,738.9 969.2,739.7 C971.9,740.6 975.6,742.2 979.4,743.6 C983.2,745.0 987.9,746.8 992.1,748.2 C996.4,749.5 1001.1,751.1 1004.9,751.5 C1008.7,751.9 1011.7,751.1 1015.1,750.7 C1018.5,750.4 1021.5,750.1 1025.3,749.4 C1029.1,748.8 1034.2,747.0 1038.1,746.6 C1041.9,746.2 1044.4,746.9 1048.3,747.1 C1052.1,747.4 1056.8,747.6 1061.0,748.2 C1065.3,748.7 1069.5,749.9 1073.8,750.5 C1078.0,751.0 1081.9,751.1 1086.5,751.5 C1091.2,751.8 1097.2,752.0 1101.8,752.5 C1106.5,753.0 1110.1,753.8 1114.6,754.3 C1119.1,754.8 1126.5,755.1 1128.9,755.3" fill="none" stroke="#fbe54d" stroke-width="1.2" stroke-linejoin="round" stroke-linecap="round"/>
<path d="M10.7,755.8 L14.5,751.5 L21.2,754.5 L26.8,752.5 L34.4,745.4 L40.8,747.9 L48.5,758.4 L54.8,749.9 L62.0,754.5 L68.9,762.7 L75.8,773.2 L82.9,748.7 L89.8,745.6 L96.9,762.7 L103.8,774.4 L110.5,769.1 L117.9,756.3 L124.7,751.2 L131.6,744.8 L138.0,740.3 L144.9,744.3 L151.8,765.3 L158.7,768.6 L165.8,757.6 L172.7,750.5 L179.8,756.8 L186.2,758.9 L193.9,761.9 L200.8,754.3 L207.9,749.4 L214.3,759.6 L220.7,756.3 L227.6,753.0 L234.7,742.8 L241.8,751.2 L248.7,736.7 L255.9,729.0 L262.8,716.3 L269.9,721.9 L276.8,734.6 L283.7,742.3 L290.8,749.9 L297.7,751.5 L304.8,747.4 L311.2,723.2 L318.1,722.4 L324.5,732.1 L331.6,724.4 L338.8,718.6 L345.7,718.8 L352.8,722.4 L359.7,719.8 L367.3,715.5 L374.2,711.7 L380.0,705.3 L387.7,715.5 L394.5,719.3 L401.7,708.4 L408.1,723.2 L414.9,739.0 L422.1,739.7 L429.0,730.1 L436.1,735.9 L443.0,737.2 L449.9,739.5 L456.5,721.9 L463.7,716.0 L470.6,715.3 L477.7,714.5 L484.6,706.6 L491.5,716.0 L497.9,706.1 L505.0,707.1 L512.1,706.6 L519.0,703.3 L525.9,700.2 L532.6,706.6 L539.4,713.0 L546.6,713.7 L553.5,729.0 L560.6,737.2 L567.5,743.6 L574.4,742.3 L581.5,741.3 L588.7,749.7 L595.1,745.6 L601.9,749.7 L608.8,750.2 L615.2,757.6 L622.3,775.7 L629.5,781.8 L636.4,775.5 L644.0,766.0 L650.9,771.9 L658.1,768.6 L664.9,768.6 L672.1,766.0 L679.0,769.1 L685.6,753.3 L692.5,756.8 L699.4,767.0 L706.0,764.7 L712.9,778.8 L719.8,783.9 L726.4,768.6 L733.3,769.1 L740.5,775.5 L747.3,764.0 L754.5,760.4 L762.0,778.0 L768.9,765.3 L775.8,755.8 L783.0,753.3 L789.8,750.7 L796.5,747.9 L803.4,746.4 L810.3,745.6 L816.9,742.3 L823.8,751.2 L830.9,748.9 L837.8,763.5 L844.7,763.0 L851.8,752.5 L858.7,757.6 L865.9,759.6 L872.8,737.2 L879.4,723.9 L886.3,721.9 L893.2,726.0 L899.8,728.0 L906.9,723.4 L913.8,739.7 L920.7,746.1 L927.6,746.6 L934.7,756.3 L941.6,739.7 L948.8,743.6 L955.9,758.9 L962.8,750.5 L969.7,753.3 L976.3,752.5 L983.2,757.9 L990.1,755.3 L997.0,764.7 L1004.1,752.5 L1011.0,739.0 L1017.9,732.1 L1024.8,735.7 L1031.9,728.8 L1039.1,722.4 L1045.7,756.3 L1052.9,749.4 L1059.7,764.5 L1066.6,768.6 L1073.3,775.2 L1080.2,765.3 L1087.3,767.8 L1094.2,768.8 L1101.1,758.9 L1108.0,748.7 L1115.1,746.4 L1122.0,741.0 L1128.9,737.4" fill="none" stroke="#7e57c2" stroke-width="1.05" stroke-linejoin="round" stroke-linecap="round" />
</g>
<text x="18.5" y="709.5" font-size="11.5" fill="#50535e" textLength="14.5" lengthAdjust="spacingAndGlyphs">RSI</text>
<text x="41.5" y="709.5" font-size="12" fill="#7e57c2" textLength="29" lengthAdjust="spacingAndGlyphs">53.68</text>
<text x="79.5" y="709.5" font-size="12" fill="#fbe54d" textLength="28" lengthAdjust="spacingAndGlyphs">44.87</text>
<ellipse cx="119" cy="705.3" rx="2.7" ry="3.4" fill="none" stroke="#5d606b" stroke-width="1"/><line x1="116.7" y1="709.8" x2="121.3" y2="700.8" stroke="#5d606b" stroke-width="0.9"/>
<ellipse cx="134" cy="705.3" rx="2.7" ry="3.4" fill="none" stroke="#5d606b" stroke-width="1"/><line x1="131.7" y1="709.8" x2="136.3" y2="700.8" stroke="#5d606b" stroke-width="0.9"/>
<ellipse cx="150" cy="705.3" rx="2.7" ry="3.4" fill="none" stroke="#5d606b" stroke-width="1"/><line x1="147.7" y1="709.8" x2="152.3" y2="700.8" stroke="#5d606b" stroke-width="0.9"/>
<ellipse cx="165.3" cy="705.3" rx="2.7" ry="3.4" fill="none" stroke="#5d606b" stroke-width="1"/><line x1="163.0" y1="709.8" x2="167.60000000000002" y2="700.8" stroke="#5d606b" stroke-width="0.9"/>
<ellipse cx="180.4" cy="705.3" rx="2.7" ry="3.4" fill="none" stroke="#5d606b" stroke-width="1"/><line x1="178.1" y1="709.8" x2="182.70000000000002" y2="700.8" stroke="#5d606b" stroke-width="0.9"/>
<ellipse cx="195.4" cy="705.3" rx="2.7" ry="3.4" fill="none" stroke="#5d606b" stroke-width="1"/><line x1="193.1" y1="709.8" x2="197.70000000000002" y2="700.8" stroke="#5d606b" stroke-width="0.9"/>
<rect x="1459" y="28" width="1" height="793" fill="#434651"/>
<rect x="11" y="794" width="1449" height="1" fill="#434651"/>
<text x="1467.2" y="117.7" font-size="12" fill="#50535e" textLength="41.5" lengthAdjust="spacingAndGlyphs">0.68500</text>
<text x="1467.2" y="162.8" font-size="12" fill="#50535e" textLength="41.5" lengthAdjust="spacingAndGlyphs">0.68000</text>
<text x="1467.2" y="207.9" font-size="12" fill="#50535e" textLength="41.5" lengthAdjust="spacingAndGlyphs">0.67500</text>
<text x="1467.2" y="252.9" font-size="12" fill="#50535e" textLength="41.5" lengthAdjust="spacingAndGlyphs">0.67000</text>
<text x="1467.2" y="298.0" font-size="12" fill="#50535e" textLength="41.5" lengthAdjust="spacingAndGlyphs">0.66500</text>
<text x="1467.2" y="343.1" font-size="12" fill="#50535e" textLength="41.5" lengthAdjust="spacingAndGlyphs">0.66000</text>
<text x="1467.2" y="388.2" font-size="12" fill="#50535e" textLength="41.5" lengthAdjust="spacingAndGlyphs">0.65500</text>
<text x="1467.2" y="433.3" font-size="12" fill="#50535e" textLength="41.5" lengthAdjust="spacingAndGlyphs">0.65000</text>
<text x="1467.2" y="478.3" font-size="12" fill="#50535e" textLength="41.5" lengthAdjust="spacingAndGlyphs">0.64500</text>
<text x="1467.2" y="523.4" font-size="12" fill="#50535e" textLength="41.5" lengthAdjust="spacingAndGlyphs">0.64000</text>
<text x="1467.2" y="568.5" font-size="12" fill="#50535e" textLength="41.5" lengthAdjust="spacingAndGlyphs">0.63500</text>
<text x="1467.2" y="613.6" font-size="12" fill="#50535e" textLength="41.5" lengthAdjust="spacingAndGlyphs">0.63000</text>
<text x="1467.2" y="658.7" font-size="12" fill="#50535e" textLength="41.5" lengthAdjust="spacingAndGlyphs">0.62500</text>
<rect x="1462.5" y="31" width="53" height="26.5" rx="4" fill="#fff" stroke="#e6e8f0" stroke-width="1"/>
<text x="1472.5" y="48.5" font-size="11.5" fill="#2a2e39" textLength="20" lengthAdjust="spacingAndGlyphs">USD</text>
<path d="M1459.2,61 H1513 Q1515,61 1515,63 V75 Q1515,77 1513,77 H1459.2 Z" fill="#000"/>
<text x="1467.2" y="73.3" font-size="12" font-weight="bold" fill="#fff" textLength="41.5" lengthAdjust="spacingAndGlyphs">0.68996</text>
<path d="M1459.2,259 H1513 Q1515,259 1515,261 V273.5 Q1515,275.5 1513,275.5 H1459.2 Z" fill="#f23645"/>
<text x="1467.2" y="271.6" font-size="12" font-weight="bold" fill="#fff" textLength="41.5" lengthAdjust="spacingAndGlyphs">0.66800</text>
<path d="M1459.2,335.5 H1513 Q1515,335.5 1515,337.5 V366.7 Q1515,368.7 1513,368.7 H1459.2 Z" fill="#000"/>
<text x="1467.2" y="356.4" font-size="12" font-weight="bold" fill="#fff" textLength="41.5" lengthAdjust="spacingAndGlyphs"></text>
<path d="M1459.2,335.5 H1513 Q1515,335.5 1515,337.5 V350.3 Q1515,352.3 1513,352.3 H1459.2 Z" fill="none"/>
<text x="1467.2" y="348.2" font-size="12" font-weight="bold" fill="#fff" textLength="41.5" lengthAdjust="spacingAndGlyphs">0.65802</text>
<path d="M1459.2,352.3 H1513 Q1515,352.3 1515,354.3 V366.7 Q1515,368.7 1513,368.7 H1459.2 Z" fill="none"/>
<text x="1467.2" y="364.8" font-size="12" font-weight="bold" fill="#fff" textLength="41.5" lengthAdjust="spacingAndGlyphs">0.65770</text>
<path d="M1459.2,392 H1513 Q1515,392 1515,394 V406.8 Q1515,408.8 1513,408.8 H1459.2 Z" fill="#26a69a"/>
<text x="1467.2" y="404.7" font-size="12" font-weight="bold" fill="#fff" textLength="41.5" lengthAdjust="spacingAndGlyphs">0.65320</text>
<path d="M1459.2,408.8 H1513 Q1515,408.8 1515,410.8 V423.9 Q1515,425.9 1513,425.9 H1459.2 Z" fill="#2a2aff"/>
<text x="1467.2" y="421.7" font-size="12" font-weight="bold" fill="#fff" textLength="41.5" lengthAdjust="spacingAndGlyphs">0.65315</text>
<path d="M1459.2,425.9 H1513 Q1515,425.9 1515,427.9 V440.7 Q1515,442.7 1513,442.7 H1459.2 Z" fill="#f23645"/>
<text x="1467.2" y="438.6" font-size="12" font-weight="bold" fill="#fff" textLength="41.5" lengthAdjust="spacingAndGlyphs">0.65249</text>
<path d="M1459.2,458.5 H1513 Q1515,458.5 1515,460.5 V473 Q1515,475 1513,475 H1459.2 Z" fill="#000"/>
<text x="1467.2" y="471.1" font-size="12" font-weight="bold" fill="#fff" textLength="41.5" lengthAdjust="spacingAndGlyphs">0.64586</text>
<path d="M1459.2,544.2 H1513 Q1515,544.2 1515,546.2 V558.5 Q1515,560.5 1513,560.5 H1459.2 Z" fill="#ff9800"/>
<text x="1467.2" y="556.6" font-size="12" fill="#1a1a1a" textLength="41.5" lengthAdjust="spacingAndGlyphs">0.63633</text>
<path d="M1459.2,626.4 H1513 Q1515,626.4 1515,628.4 V640.7 Q1515,642.7 1513,642.7 H1459.2 Z" fill="#000"/>
<text x="1467.2" y="638.8" font-size="12" font-weight="bold" fill="#fff" textLength="41.5" lengthAdjust="spacingAndGlyphs">0.62724</text>
<path d="M1457.8,392 H1406.8 Q1404.8,392 1404.8,394 V406.8 Q1404.8,408.8 1406.8,408.8 H1457.8 Z" fill="#26a69a"/>
<text x="1409.8" y="404.7" font-size="12" font-weight="bold" fill="#fff" textLength="43.0" lengthAdjust="spacingAndGlyphs">AUDUSD</text>
<path d="M1457.8,408.8 H1409.2 Q1407.2,408.8 1407.2,410.8 V423.9 Q1407.2,425.9 1409.2,425.9 H1457.8 Z" fill="#2a2aff"/>
<text x="1412.2" y="421.7" font-size="12" font-weight="bold" fill="#fff" textLength="40.59999999999991" lengthAdjust="spacingAndGlyphs">SMA:MA</text>
<path d="M1457.8,425.9 H1409.2 Q1407.2,425.9 1407.2,427.9 V440.7 Q1407.2,442.7 1409.2,442.7 H1457.8 Z" fill="#f23645"/>
<text x="1412.2" y="438.6" font-size="12" font-weight="bold" fill="#fff" textLength="40.59999999999991" lengthAdjust="spacingAndGlyphs">SMA:MA</text>
<rect x="1457.8" y="392.5" width="1.4" height="50.2" fill="#fff"/>
<rect x="1457.8" y="713.2" width="1.4" height="70.8" fill="#fff"/>
<text x="1467.2" y="769.5" font-size="12" fill="#50535e" textLength="29" lengthAdjust="spacingAndGlyphs">40.00</text>
<path d="M1460,713.2 H1368.2 Q1366.2,713.2 1366.2,715.2 V727.9 Q1366.2,729.9 1368.2,729.9 H1460 Z" fill="#fff"/>
<text x="1370.5" y="724.8" font-size="12" fill="#111" textLength="82.4" lengthAdjust="spacingAndGlyphs">Regular Bearish</text>
<text x="1467.2" y="725.5" font-size="12" fill="#111" textLength="29" lengthAdjust="spacingAndGlyphs">61.39</text>
<path d="M1457.8,730.1 H1434.2 Q1432.2,730.1 1432.2,732.1 V744.9 Q1432.2,746.9 1434.2,746.9 H1457.8 Z" fill="#7e57c2"/>
<text x="1437.2" y="742.8" font-size="12" font-weight="bold" fill="#fff" textLength="16" lengthAdjust="spacingAndGlyphs">RSI</text>
<path d="M1459.2,730.1 H1500 Q1502,730.1 1502,732.1 V744.9 Q1502,746.9 1500,746.9 H1459.2 Z" fill="#7e57c2"/>
<text x="1467.2" y="742.8" font-size="12" font-weight="bold" fill="#fff" textLength="29" lengthAdjust="spacingAndGlyphs">53.68</text>
<path d="M1457.8,747.2 H1380 Q1378,747.2 1378,749.2 V761.8 Q1378,763.8 1380,763.8 H1457.8 Z" fill="#ffeb3b"/>
<text x="1382.5" y="759.8" font-size="12" fill="#111" textLength="70" lengthAdjust="spacingAndGlyphs">RSI-based MA</text>
<path d="M1459.2,747.2 H1500 Q1502,747.2 1502,749.2 V761.8 Q1502,763.8 1500,763.8 H1459.2 Z" fill="#ffeb3b"/>
<text x="1467.2" y="759.8" font-size="12" fill="#111" textLength="29" lengthAdjust="spacingAndGlyphs">44.87</text>
<path d="M1460,766.7 H1371 Q1369,766.7 1369,768.7 V782 Q1369,784 1371,784 H1460 Z" fill="#fff"/>
<text x="1374.7" y="778.4" font-size="12" fill="#111" textLength="78" lengthAdjust="spacingAndGlyphs">Regular Bullish</text>
<text x="1467.2" y="779.3" font-size="12" fill="#111" textLength="29.5" lengthAdjust="spacingAndGlyphs">34.65</text>
<text x="87.3" y="812.1" font-size="12" fill="#50535e" textLength="18.5" lengthAdjust="spacingAndGlyphs">Oct</text>
<text x="239.4" y="812.1" font-size="12" fill="#50535e" textLength="19.5" lengthAdjust="spacingAndGlyphs">Nov</text>
<text x="391.8" y="812.1" font-size="12" fill="#50535e" textLength="19.5" lengthAdjust="spacingAndGlyphs">Dec</text>
<text x="533.5" y="812.1" font-size="12" font-weight="bold" fill="#50535e" textLength="27.5" lengthAdjust="spacingAndGlyphs">2024</text>
<text x="696.6" y="812.1" font-size="12" fill="#50535e" textLength="19.3" lengthAdjust="spacingAndGlyphs">Feb</text>
<text x="841.8" y="812.1" font-size="12" fill="#50535e" textLength="19.5" lengthAdjust="spacingAndGlyphs">Mar</text>
<text x="988.0" y="812.1" font-size="12" fill="#50535e" textLength="18.5" lengthAdjust="spacingAndGlyphs">Apr</text>
<text x="1139.8" y="812.1" font-size="12" fill="#50535e" textLength="20" lengthAdjust="spacingAndGlyphs">May</text>
<text x="1300.0" y="812.1" font-size="12" fill="#50535e" textLength="18" lengthAdjust="spacingAndGlyphs">Jun</text>
<text x="1440.5" y="812.1" font-size="12" fill="#50535e" textLength="14" lengthAdjust="spacingAndGlyphs">Jul</text>
<g fill="#1e222d"><path d="M9.8,834.1 H18.2 V843.5 H13.9 V838.4 H9.8 Z"/><circle cx="21.3" cy="836.2" r="2.1"/><path d="M24.6,834.1 H29.8 L25.7,843.5 H20.6 Z"/></g>
<text x="33" y="843.5" font-size="12.5" fill="#1e222d" textLength="70" lengthAdjust="spacingAndGlyphs">TradingView</text>
<defs><filter id="bl" x="-5%" y="-5%" width="110%" height="110%"><feGaussianBlur stdDeviation="0.6"/></filter></defs>
<defs><mask id="wm" maskUnits="userSpaceOnUse" x="1270" y="755" width="260" height="75"><rect x="1270" y="755" width="260" height="75" fill="#fff"/><path d="M1297.7,766.1 L1309.6,766.1 L1306.0,779.3 L1294.1,779.3Z M1290.5,784.8 L1301.3,784.8 L1298.6,794.7 L1287.8,794.7Z M1281.0,820.0 L1291.7,800.2 L1302.5,800.2 L1291.8,820.0Z M1319.6,765.0 L1328.2,765.0 L1326.5,771.6 L1317.8,771.6Z M1312.4,771.6 L1348.1,771.6 L1345.8,779.9 L1310.2,779.9Z M1311.8,785.9 L1341.0,785.9 L1339.2,792.5 L1310.0,792.5Z M1311.8,785.9 L1319.9,785.9 L1312.2,814.5 L1304.1,814.5Z M1333.4,785.9 L1342.0,785.9 L1332.8,820.0 L1324.2,820.0Z M1302.4,796.9 L1341.2,796.9 L1339.5,803.5 L1300.6,803.5Z M1305.6,809.0 L1327.2,809.0 L1325.4,815.6 L1303.8,815.6Z M1317.3,813.4 L1334.6,813.4 L1332.8,820.0 L1315.6,820.0Z M1360.9,768.3 L1397.7,768.3 L1395.6,776.0 L1358.9,776.0Z M1389.0,768.3 L1397.7,768.3 L1392.0,789.2 L1383.4,789.2Z M1362.1,776.0 L1370.7,776.0 L1365.1,796.9 L1356.5,796.9Z M1358.5,789.2 L1401.7,789.2 L1399.7,796.9 L1356.5,796.9Z M1393.1,789.2 L1401.7,789.2 L1393.4,820.0 L1384.8,820.0Z M1372.8,812.3 L1395.5,812.3 L1393.4,820.0 L1370.7,820.0Z M1346.6,801.3 L1387.7,801.3 L1385.6,809.0 L1344.5,809.0Z M1416.1,768.3 L1438.8,768.3 L1437.0,774.9 L1414.3,774.9Z M1416.1,768.3 L1423.7,768.3 L1414.2,803.5 L1406.6,803.5Z M1431.2,768.3 L1438.8,768.3 L1429.3,803.5 L1421.7,803.5Z M1419.2,784.8 L1426.8,784.8 L1425.3,790.3 L1417.7,790.3Z M1412.0,803.5 L1419.6,803.5 L1407.6,820.0 L1400.0,820.0Z M1420.7,803.5 L1428.2,803.5 L1427.0,820.0 L1419.4,820.0Z M1438.6,777.1 L1465.6,777.1 L1463.5,784.8 L1436.5,784.8Z M1454.5,766.1 L1463.2,766.1 L1448.6,820.0 L1440.0,820.0Z M1433.4,812.3 L1450.7,812.3 L1448.6,820.0 L1431.3,820.0Z M1448.9,787.0 L1445.9,798.0 L1430.2,812.3 L1429.0,804.6Z M1487.3,765.0 L1497.0,765.0 L1480.1,783.7 L1470.4,783.7Z M1487.3,777.1 L1495.9,777.1 L1477.3,798.0 L1467.6,798.0Z M1461.9,811.2 L1485.6,803.5 L1483.5,811.2 L1459.5,820.0Z M1499.7,767.2 L1525.6,767.2 L1523.5,774.9 L1497.6,774.9Z M1516.0,774.9 L1524.6,774.9 L1500.1,793.6 L1491.5,793.6Z M1503.7,780.4 L1512.1,777.1 L1520.6,793.6 L1512.0,793.6Z M1492.7,796.9 L1518.7,796.9 L1516.9,803.5 L1491.0,803.5Z M1502.5,796.9 L1510.0,796.9 L1505.0,815.6 L1497.4,815.6Z M1485.0,813.4 L1515.3,813.4 L1513.5,820.0 L1483.3,820.0Z" fill="#000"/></mask></defs>
<path d="M1299.3,767.7 L1311.2,767.7 L1307.6,780.9 L1295.7,780.9Z M1292.1,786.4 L1302.9,786.4 L1300.2,796.3 L1289.4,796.3Z M1282.6,821.6 L1293.3,801.8 L1304.1,801.8 L1293.4,821.6Z M1321.2,766.6 L1329.8,766.6 L1328.1,773.2 L1319.4,773.2Z M1314.0,773.2 L1349.7,773.2 L1347.4,781.5 L1311.8,781.5Z M1313.4,787.5 L1342.6,787.5 L1340.8,794.1 L1311.6,794.1Z M1313.4,787.5 L1321.5,787.5 L1313.8,816.1 L1305.7,816.1Z M1335.0,787.5 L1343.6,787.5 L1334.4,821.6 L1325.8,821.6Z M1304.0,798.5 L1342.8,798.5 L1341.1,805.1 L1302.2,805.1Z M1307.2,810.6 L1328.8,810.6 L1327.0,817.2 L1305.4,817.2Z M1318.9,815.0 L1336.2,815.0 L1334.4,821.6 L1317.2,821.6Z M1362.5,769.9 L1399.3,769.9 L1397.2,777.6 L1360.5,777.6Z M1390.6,769.9 L1399.3,769.9 L1393.6,790.8 L1385.0,790.8Z M1363.7,777.6 L1372.3,777.6 L1366.7,798.5 L1358.1,798.5Z M1360.1,790.8 L1403.3,790.8 L1401.3,798.5 L1358.1,798.5Z M1394.7,790.8 L1403.3,790.8 L1395.0,821.6 L1386.4,821.6Z M1374.4,813.9 L1397.1,813.9 L1395.0,821.6 L1372.3,821.6Z M1348.2,802.9 L1389.3,802.9 L1387.2,810.6 L1346.1,810.6Z M1417.7,769.9 L1440.4,769.9 L1438.6,776.5 L1415.9,776.5Z M1417.7,769.9 L1425.3,769.9 L1415.8,805.1 L1408.2,805.1Z M1432.8,769.9 L1440.4,769.9 L1430.9,805.1 L1423.3,805.1Z M1420.8,786.4 L1428.4,786.4 L1426.9,791.9 L1419.3,791.9Z M1413.6,805.1 L1421.2,805.1 L1409.2,821.6 L1401.6,821.6Z M1422.3,805.1 L1429.8,805.1 L1428.6,821.6 L1421.0,821.6Z M1440.2,778.7 L1467.2,778.7 L1465.1,786.4 L1438.1,786.4Z M1456.1,767.7 L1464.8,767.7 L1450.2,821.6 L1441.6,821.6Z M1435.0,813.9 L1452.3,813.9 L1450.2,821.6 L1432.9,821.6Z M1450.5,788.6 L1447.5,799.6 L1431.8,813.9 L1430.6,806.2Z M1488.9,766.6 L1498.6,766.6 L1481.7,785.3 L1472.0,785.3Z M1488.9,778.7 L1497.5,778.7 L1478.9,799.6 L1469.2,799.6Z M1463.5,812.8 L1487.2,805.1 L1485.1,812.8 L1461.1,821.6Z M1501.3,768.8 L1527.2,768.8 L1525.1,776.5 L1499.2,776.5Z M1517.6,776.5 L1526.2,776.5 L1501.7,795.2 L1493.1,795.2Z M1505.3,782.0 L1513.7,778.7 L1522.2,795.2 L1513.6,795.2Z M1494.3,798.5 L1520.3,798.5 L1518.5,805.1 L1492.6,805.1Z M1504.1,798.5 L1511.6,798.5 L1506.6,817.2 L1499.0,817.2Z M1486.6,815.0 L1516.9,815.0 L1515.1,821.6 L1484.9,821.6Z" fill="#4a4d58" fill-opacity="0.55" mask="url(#wm)" filter="url(#bl)"/>
<path d="M1297.7,766.1 L1309.6,766.1 L1306.0,779.3 L1294.1,779.3Z M1290.5,784.8 L1301.3,784.8 L1298.6,794.7 L1287.8,794.7Z M1281.0,820.0 L1291.7,800.2 L1302.5,800.2 L1291.8,820.0Z M1319.6,765.0 L1328.2,765.0 L1326.5,771.6 L1317.8,771.6Z M1312.4,771.6 L1348.1,771.6 L1345.8,779.9 L1310.2,779.9Z M1311.8,785.9 L1341.0,785.9 L1339.2,792.5 L1310.0,792.5Z M1311.8,785.9 L1319.9,785.9 L1312.2,814.5 L1304.1,814.5Z M1333.4,785.9 L1342.0,785.9 L1332.8,820.0 L1324.2,820.0Z M1302.4,796.9 L1341.2,796.9 L1339.5,803.5 L1300.6,803.5Z M1305.6,809.0 L1327.2,809.0 L1325.4,815.6 L1303.8,815.6Z M1317.3,813.4 L1334.6,813.4 L1332.8,820.0 L1315.6,820.0Z M1360.9,768.3 L1397.7,768.3 L1395.6,776.0 L1358.9,776.0Z M1389.0,768.3 L1397.7,768.3 L1392.0,789.2 L1383.4,789.2Z M1362.1,776.0 L1370.7,776.0 L1365.1,796.9 L1356.5,796.9Z M1358.5,789.2 L1401.7,789.2 L1399.7,796.9 L1356.5,796.9Z M1393.1,789.2 L1401.7,789.2 L1393.4,820.0 L1384.8,820.0Z M1372.8,812.3 L1395.5,812.3 L1393.4,820.0 L1370.7,820.0Z M1346.6,801.3 L1387.7,801.3 L1385.6,809.0 L1344.5,809.0Z M1416.1,768.3 L1438.8,768.3 L1437.0,774.9 L1414.3,774.9Z M1416.1,768.3 L1423.7,768.3 L1414.2,803.5 L1406.6,803.5Z M1431.2,768.3 L1438.8,768.3 L1429.3,803.5 L1421.7,803.5Z M1419.2,784.8 L1426.8,784.8 L1425.3,790.3 L1417.7,790.3Z M1412.0,803.5 L1419.6,803.5 L1407.6,820.0 L1400.0,820.0Z M1420.7,803.5 L1428.2,803.5 L1427.0,820.0 L1419.4,820.0Z M1438.6,777.1 L1465.6,777.1 L1463.5,784.8 L1436.5,784.8Z M1454.5,766.1 L1463.2,766.1 L1448.6,820.0 L1440.0,820.0Z M1433.4,812.3 L1450.7,812.3 L1448.6,820.0 L1431.3,820.0Z M1448.9,787.0 L1445.9,798.0 L1430.2,812.3 L1429.0,804.6Z M1487.3,765.0 L1497.0,765.0 L1480.1,783.7 L1470.4,783.7Z M1487.3,777.1 L1495.9,777.1 L1477.3,798.0 L1467.6,798.0Z M1461.9,811.2 L1485.6,803.5 L1483.5,811.2 L1459.5,820.0Z M1499.7,767.2 L1525.6,767.2 L1523.5,774.9 L1497.6,774.9Z M1516.0,774.9 L1524.6,774.9 L1500.1,793.6 L1491.5,793.6Z M1503.7,780.4 L1512.1,777.1 L1520.6,793.6 L1512.0,793.6Z M1492.7,796.9 L1518.7,796.9 L1516.9,803.5 L1491.0,803.5Z M1502.5,796.9 L1510.0,796.9 L1505.0,815.6 L1497.4,815.6Z M1485.0,813.4 L1515.3,813.4 L1513.5,820.0 L1483.3,820.0Z" fill="#fff" fill-opacity="0.72"/>
<text x="0" y="0" font-size="33" font-weight="bold" font-style="italic" fill="#d5d7dc" transform="translate(1296.0,853.5) scale(1.18,1)">z</text>
<text x="0" y="0" font-size="33" font-weight="bold" font-style="italic" fill="#d5d7dc" transform="translate(1321.5,853.5) scale(1.18,1)">z</text>
<text x="0" y="0" font-size="33" font-weight="bold" font-style="italic" fill="#d5d7dc" transform="translate(1350.5,853.5) scale(1.18,1)">r</text>
<text x="0" y="0" font-size="33" font-weight="bold" font-style="italic" fill="#d5d7dc" transform="translate(1374.2,853.5) scale(1.18,1)">t</text>
<text x="0" y="0" font-size="33" font-weight="bold" font-style="italic" fill="#d5d7dc" transform="translate(1395.5,853.5) scale(1.18,1)">0</text>
<text x="0" y="0" font-size="33" font-weight="bold" font-style="italic" fill="#d5d7dc" transform="translate(1427.0,853.5) scale(1.18,1)">1</text>
<text x="0" y="0" font-size="33" font-weight="bold" font-style="italic" fill="#d5d7dc" transform="translate(1453.3,853.5) scale(1.18,1)">.</text>
<text x="0" y="0" font-size="33" font-weight="bold" font-style="italic" fill="#d5d7dc" transform="translate(1472.9,853.5) scale(1.18,1)">c</text>
<text x="0" y="0" font-size="33" font-weight="bold" font-style="italic" fill="#d5d7dc" transform="translate(1499.0,853.5) scale(1.18,1)">n</text>
<text x="0" y="0" font-size="33" font-weight="bold" font-style="italic" fill="#8fd0c8" transform="translate(1294.5,852) scale(1.18,1)">z</text>
<text x="0" y="0" font-size="33" font-weight="bold" font-style="italic" fill="#8fd0c8" transform="translate(1320.0,852) scale(1.18,1)">z</text>
<text x="0" y="0" font-size="33" font-weight="bold" font-style="italic" fill="#8fd0c8" transform="translate(1349.0,852) scale(1.18,1)">r</text>
<text x="0" y="0" font-size="33" font-weight="bold" font-style="italic" fill="#8fd0c8" transform="translate(1372.7,852) scale(1.18,1)">t</text>
<text x="0" y="0" font-size="33" font-weight="bold" font-style="italic" fill="#8fd0c8" transform="translate(1394.0,852) scale(1.18,1)">0</text>
<text x="0" y="0" font-size="33" font-weight="bold" font-style="italic" fill="#8fd0c8" transform="translate(1425.5,852) scale(1.18,1)">1</text>
<text x="0" y="0" font-size="33" font-weight="bold" font-style="italic" fill="#8fd0c8" transform="translate(1451.8,852) scale(1.18,1)">.</text>
<text x="0" y="0" font-size="33" font-weight="bold" font-style="italic" fill="#8fd0c8" transform="translate(1471.4,852) scale(1.18,1)">c</text>
<text x="0" y="0" font-size="33" font-weight="bold" font-style="italic" fill="#8fd0c8" transform="translate(1497.5,852) scale(1.18,1)">n</text>
</svg></body></html>
